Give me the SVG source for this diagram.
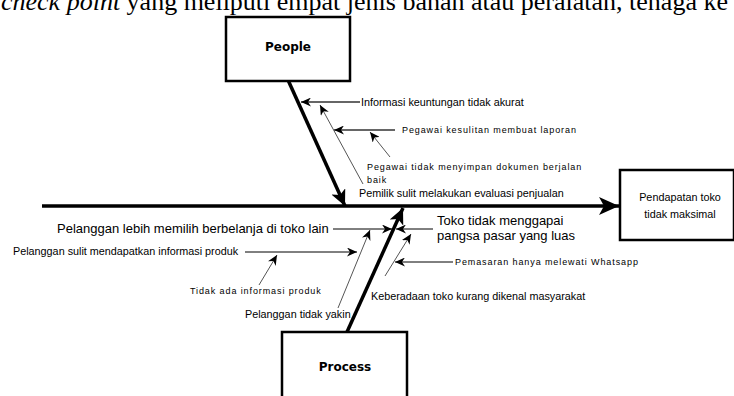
<svg xmlns="http://www.w3.org/2000/svg" width="734" height="396" viewBox="0 0 734 396">
<style>
.box{fill:#fff;stroke:#000;stroke-width:2.5}
.cat{font-family:"DejaVu Sans",sans-serif;font-weight:bold;font-size:12px;fill:#000}
.lg{font-family:"Liberation Sans",Arial,sans-serif;font-size:13px;fill:#000}
.md{font-family:"Liberation Sans",Arial,sans-serif;font-size:10.8px;fill:#000}
.sm{font-family:"Liberation Sans",Arial,sans-serif;font-size:9px;letter-spacing:0.9px;fill:#000}
.top{font-family:"Liberation Serif","Times New Roman",serif;font-size:26px;fill:#000}
.spine{stroke:#000;stroke-width:3.5;fill:none}
.thin{stroke:#000;stroke-width:1;fill:none}
.gray{stroke:#666;stroke-width:2;fill:none}
.gthin{stroke:#555;stroke-width:1;fill:none}
</style>
<defs>
<marker id="big" markerUnits="userSpaceOnUse" markerWidth="22" markerHeight="18" refX="20" refY="9" orient="auto">
<path d="M0,0 L20,9 L0,18 L5,9 z" fill="#000"/>
</marker>
<marker id="mid" markerUnits="userSpaceOnUse" markerWidth="17" markerHeight="15" refX="16" refY="7.5" orient="auto">
<path d="M0,0 L16,7.5 L0,15 L4,7.5 z" fill="#000"/>
</marker>
<marker id="sm" markerUnits="userSpaceOnUse" markerWidth="11" markerHeight="9" refX="10" refY="4.5" orient="auto">
<path d="M0,0 L10,4.5 L0,9 L3,4.5 z" fill="#000"/>
</marker>
</defs>
<text class="top" x="1" y="10"><tspan font-style="italic">check point</tspan> yang meliputi empat jenis bahan atau peralatan, tenaga ke</text>
<g id="connectors">
<line class="spine" x1="42" y1="206" x2="619" y2="206" stroke-width="4.5" marker-end="url(#big)"/>
<line class="spine" x1="288" y1="80" x2="345" y2="206" marker-end="url(#mid)"/>
<line class="spine" x1="347" y1="332" x2="403" y2="208" marker-end="url(#mid)"/>
<line class="gray" x1="360" y1="102" x2="301" y2="102" marker-end="url(#sm)"/>
<line class="gthin" x1="363" y1="184" x2="320" y2="105" marker-end="url(#sm)"/>
<line class="gray" x1="395" y1="130" x2="334" y2="130" marker-end="url(#sm)"/>
<line class="gthin" x1="390" y1="157" x2="370" y2="132" marker-end="url(#sm)"/>
<line class="thin" x1="333" y1="229" x2="392" y2="229" marker-end="url(#sm)"/>
<line class="thin" x1="433" y1="229" x2="396" y2="229" marker-end="url(#sm)"/>
<line class="gthin" x1="338" y1="308" x2="370" y2="230" marker-end="url(#sm)"/>
<line class="gthin" x1="385" y1="276" x2="411" y2="234" marker-end="url(#sm)"/>
<line class="thin" x1="245" y1="252" x2="357" y2="252" marker-end="url(#sm)"/>
<line class="gthin" x1="259" y1="285" x2="277" y2="255" marker-end="url(#sm)"/>
<line class="thin" x1="453" y1="262" x2="395" y2="262" marker-end="url(#sm)"/>
</g>
<g id="people">
<rect class="box" x="226" y="17" width="124" height="64"/>
<text class="cat" x="288" y="51" text-anchor="middle">People</text>
</g>
<g id="process">
<rect class="box" x="282" y="332" width="125" height="70"/>
<text class="cat" x="345" y="371" text-anchor="middle">Process</text>
</g>
<g id="effect">
<rect class="box" x="620" y="170" width="114" height="70"/>
<text class="md" x="680" y="201" text-anchor="middle" font-size="12.6">Pendapatan toko</text>
<text class="md" x="680" y="218" text-anchor="middle" font-size="12.6">tidak maksimal</text>
</g>
<g id="labels">
<text class="md" x="361" y="106" font-size="11.2">Informasi keuntungan tidak akurat</text>
<text class="sm" x="402" y="133">Pegawai kesulitan membuat laporan</text>
<text class="sm" x="367" y="170">Pegawai tidak menyimpan dokumen berjalan</text>
<text class="sm" x="367" y="183">baik</text>
<text class="md" x="359" y="197">Pemilik sulit melakukan evaluasi penjualan</text>
<text class="lg" x="57" y="233">Pelanggan lebih memilih berbelanja di toko lain</text>
<text class="lg" x="437" y="225">Toko tidak menggapai</text>
<text class="lg" x="437" y="240">pangsa pasar yang luas</text>
<text class="md" x="13" y="255" font-size="11.2">Pelanggan sulit mendapatkan informasi produk</text>
<text class="sm" x="190" y="294">Tidak ada informasi produk</text>
<text class="md" x="245" y="318" font-size="9.5">Pelanggan tidak yakin</text>
<text class="sm" x="455" y="265">Pemasaran hanya melewati Whatsapp</text>
<text class="md" x="371" y="300" font-size="11">Keberadaan toko kurang dikenal masyarakat</text>
</g>
</svg>
